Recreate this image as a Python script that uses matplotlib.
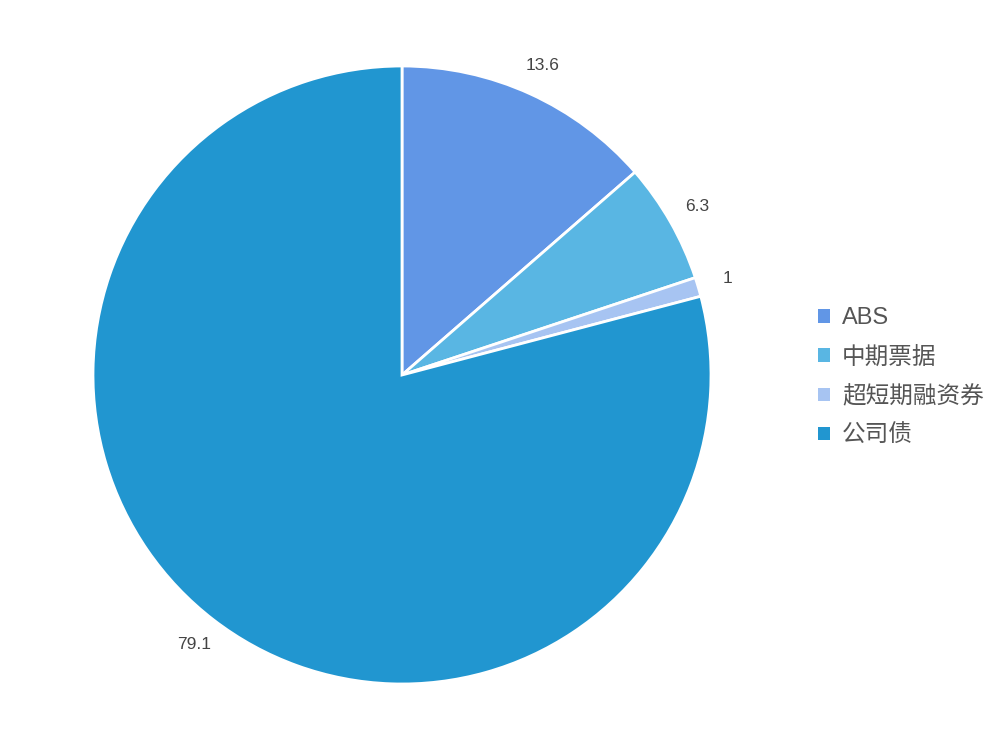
import matplotlib
matplotlib.use("Agg")
import matplotlib.pyplot as plt

plt.rcParams['font.family'] = ['Liberation Sans', 'Noto Sans CJK SC', 'DejaVu Sans']

categories = ["ABS", "中期票据", "超短期融资券", "公司债"]
values = [13.6, 6.3, 1, 79.1]
labels = ["13.6", "6.3", "1", "79.1"]
colors = ["#6196E6", "#59B6E3", "#A7C4F2", "#2196D0"]

fig = plt.figure(figsize=(10, 7.5), dpi=100)
ax = fig.add_axes([0.093, 0.088, 0.618, 0.824])

wedges, texts = ax.pie(values, labels=labels, colors=colors, startangle=90,
                       counterclock=False, labeldistance=1.10,
                       wedgeprops=dict(edgecolor="white", linewidth=2),
                       textprops=dict(fontsize=12.5, color="#444444"))
for t in texts:
    t.set_horizontalalignment("center")
    t.set_verticalalignment("center")
ax.set_xlim(-1, 1)
ax.set_ylim(-1, 1)
ax.set_aspect("equal")

leg = fig.legend(wedges, categories, loc="center left", bbox_to_anchor=(0.797, 0.497),
                 frameon=False, fontsize=17, handlelength=0.5, handleheight=0.5,
                 handletextpad=0.5, labelspacing=0.72, labelcolor="#555555")
for h in leg.legend_handles:
    h.set_edgecolor("none")

fig.savefig("out.png")
